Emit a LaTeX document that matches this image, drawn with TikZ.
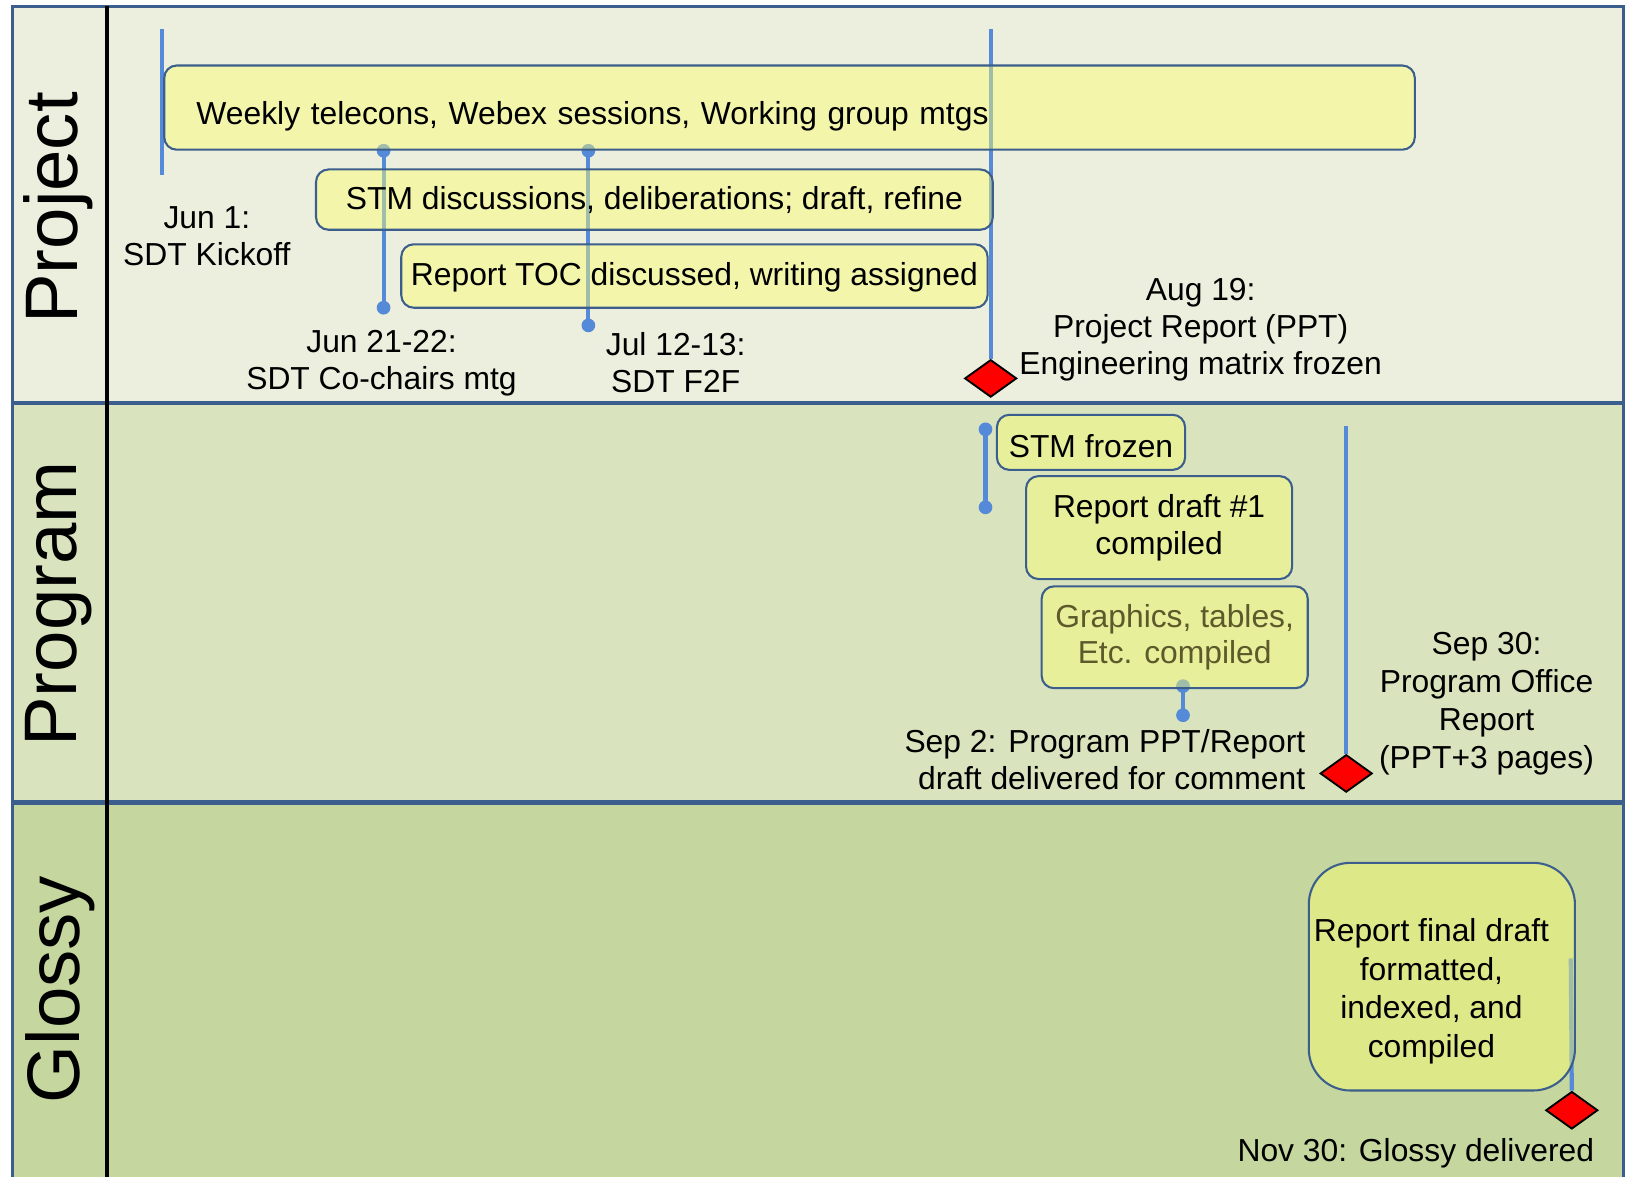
\documentclass[tikz,border=0pt]{standalone}
\usepackage{fontspec}
\setmainfont{Liberation Sans}
\usetikzlibrary{shapes.geometric}
\definecolor{frameblue}{HTML}{3B5E8C}
\definecolor{lineblue}{HTML}{558AD8}
\definecolor{projbg}{HTML}{ECEFDD}
\definecolor{progbg}{HTML}{D9E4BF}
\definecolor{glossbg}{HTML}{C5D79E}
\definecolor{boxyellow}{HTML}{FBFD6E}
\definecolor{olivetext}{HTML}{5C5A2A}
\tikzset{
  txt/.style={font=\fontsize{15.3}{17.75}\selectfont, align=center, inner sep=0pt},
  task/.style={txt, draw=frameblue, line width=1pt, fill=boxyellow, fill opacity=0.45,
    text opacity=1, rounded corners=6pt, anchor=north west},
  mile/.style={shape=diamond, draw=black, fill=red, line width=0.9pt,
    minimum width=25pt, minimum height=18pt, inner sep=0pt},
  tick/.style={lineblue, line width=2pt},
  lane/.style={font=\fontsize{35.8}{40}\selectfont, rotate=90, inner sep=0pt}
}
\newcommand{\dotrad}{3.3pt}
\begin{document}
\begin{tikzpicture}[x=0.5pt, y=-0.5pt]
    \useasboundingbox (0,0) rectangle (1568,1132);
    \clip (0,0) rectangle (1568,1132);
    %lanes
    \fill[projbg] (12,6) rectangle (1562,388);
    \fill[progbg] (12,388) rectangle (1562,772);
    \fill[glossbg] (12,772) rectangle (1562,1150);
    \draw[frameblue, line width=1.5pt] (12,1150) -- (12,6) -- (1562,6) -- (1562,1150);
    \draw[frameblue, line width=2pt] (12,388) -- (1562,388) (12,772) -- (1562,772);
    \draw[black, line width=1.6pt] (103,6) -- (103,1150);
    \node[lane] (project) at (56,200) {Project};
    \node[lane] (program) at (56,581) {Program};
    \node[lane] (glossy) at (58,952) {Glossy};
    %milestones
    \node[mile] (augmile) at (953,364) {};
    \node[mile] (sepmile) at (1295,744) {};
    \node[mile] (novmile) at (1512,1068) {};
    %ticks
    \coordinate (kicktop) at (156,28);
    \coordinate (kickbot) at (156,168);
    \coordinate (chairtop) at (369,145);
    \coordinate (chairbot) at (369,296);
    \coordinate (ftoftop) at (566,145);
    \coordinate (ftofbot) at (566,313);
    \coordinate (augtop) at (953,28);
    \coordinate (frztop) at (948,413);
    \coordinate (frzbot) at (948,488);
    \coordinate (septwotop) at (1138,660);
    \coordinate (septwobot) at (1138,688);
    \coordinate (septop) at (1295,410);
    \coordinate (novtop) at (1511,922);
    \draw[tick] (kicktop) -- (kickbot);
    \draw[tick] (chairtop) -- (chairbot);
    \draw[tick] (ftoftop) -- (ftofbot);
    \draw[tick] (augtop) -- (augmile.north);
    \draw[tick] (frztop) -- (frzbot);
    \draw[tick] (septwotop) -- (septwobot);
    \draw[tick] (septop) -- (sepmile.north);
    \draw[tick] (novtop) -- (novmile.north);
    \foreach \c in {chairtop,chairbot,ftoftop,ftofbot,frztop,frzbot,septwotop,septwobot}
        \fill[lineblue] (\c) circle (\dotrad);
    %tasks
    \node[task, minimum width=601.5pt, minimum height=40.5pt, text width=570.5pt, align=left,
        text height=19pt] (weekly) at (157,62) {Weekly telecons, Webex sessions, Working group mtgs};
    \node[task, minimum width=325.5pt, minimum height=29pt] (stmdisc) at (303,162)
        {STM discussions, deliberations; draft, refine};
    \node[task, minimum width=282pt, minimum height=30.5pt, text height=12.5pt] (toc) at (385,234)
        {Report TOC discussed, writing assigned};
    \node[task, minimum width=90.5pt, minimum height=26.5pt, text height=15pt] (stmfrz) at (958,398)
        {STM frozen};
    \node[task, minimum width=128pt, minimum height=49.5pt] (draftone) at (986,457)
        {Report draft \#1\\compiled};
    \node[task, minimum width=128pt, minimum height=49pt, text=olivetext] (graphics) at (1001,563)
        {Graphics, tables,\\Etc. compiled};
    \node[task, minimum width=128pt, minimum height=109.5pt, rounded corners=20pt,
        label={[txt, font=\fontsize{15.3}{18.5}\selectfont, xshift=-5pt, yshift=-7pt]center:{Report final draft\\formatted,\\indexed, and\\compiled}}]
        (final) at (1258,829) {};
    %dates
    \node[txt] (kicklbl) at (199,227) {Jun 1:\\SDT Kickoff};
    \node[txt] (chairlbl) at (367,349) {Jun 21-22:\\SDT Co-chairs mtg};
    \node[txt] (ftoflbl) at (650,349) {Jul 12-13:\\SDT F2F};
    \node[txt] (auglbl) at (1155,317) {Aug 19:\\Project Report (PPT)\\Engineering matrix frozen};
    \node[txt, anchor=east, align=right] (septwolbl) at (1256,731)
        {Sep 2: Program PPT/Report\\draft delivered for comment};
    \node[txt, font=\fontsize{15.3}{18.3}\selectfont] (seplbl) at (1430,677)
        {Sep 30:\\Program Office\\Report\\(PPT+3 pages)};
    \node[txt] (novlbl) at (1362,1109) {Nov 30: Glossy delivered};
\end{tikzpicture}
\end{document}
